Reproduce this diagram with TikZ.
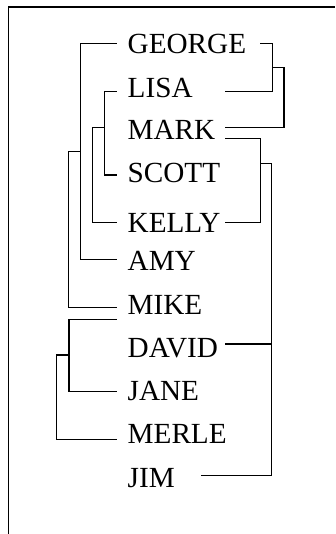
\documentclass[tikz,border=0pt]{standalone}
\usepackage{fontspec}
\setmainfont{Liberation Serif}
\usepackage{tikz}

\tikzset{
  person/.style={anchor=base west,inner sep=0pt,font=\fontsize{29.2}{31}\selectfont},
  link/.style={line width=1.2pt},
  frame/.style={line width=1.6pt}
}

\begin{document}
\begin{tikzpicture}[x=1pt,y=-1pt]
\useasboundingbox (0,0) rectangle (335,534);
\draw[frame] (8.3,534) -- (8.3,7.3) -- (335,7.3);

% names
\node[person] (george) at (127.5,54) {GEORGE};
\node[person] (lisa)   at (127.5,98) {LISA};
\node[person] (mark)   at (127.5,140) {MARK};
\node[person] (scott)  at (127.5,183) {SCOTT};
\node[person] (kelly)  at (127.5,233) {KELLY};
\node[person] (amy)    at (127.5,270.5) {AMY};
\node[person] (mike)   at (127.5,314) {MIKE};
\node[person] (david)  at (127.5,357) {DAVID};
\node[person] (jane)   at (127.5,400) {JANE};
\node[person] (merle)  at (127.5,443) {MERLE};
\node[person] (jim)    at (127.5,487) {JIM};

% line ends, left side
\coordinate (george-l) at (116.7,43.3);
\coordinate (lisa-l)   at (116.7,91.7);
\coordinate (scott-l)  at (116.7,175);
\coordinate (kelly-l)  at (116.7,222.7);
\coordinate (amy-l)    at (116.7,259.3);
\coordinate (mike-l)   at (116.7,307.3);
\coordinate (david-l)  at (116.7,319.3);
\coordinate (jane-l)   at (116.7,391.7);
\coordinate (merle-l)  at (116.7,439.3);
% line ends, right side
\coordinate (george-r) at (260,43.3);
\coordinate (lisa-r)   at (225,91.7);
\coordinate (mark-r)   at (225,127.3);
\coordinate (mark-r2)  at (225,138.3);
\coordinate (kelly-r)  at (225,222.7);
\coordinate (david-r)  at (225,344);
\coordinate (jim-r)    at (201,475.7);

% left brackets
\draw[link] (george-l) -- ++(-36,0) |- (amy-l);
\draw[link] (lisa-l) -- ++(-12.4,0) |- (scott-l);
\draw[link] (104.3,127.7) -- (92.7,127.7) |- (kelly-l);
\draw[link] (80.7,151.7) -- (68.5,151.7) |- (mike-l);
\draw[link] (david-l) -- ++(-47.7,0) |- (jane-l);
\draw[link] (69,355) -- (56.7,355) |- (merle-l);

% right brackets
\draw[link] (george-r) -- ++(12.7,0) |- (lisa-r);
\draw[link] (272.7,67.3) -- (284,67.3) |- (mark-r);
\draw[link] (mark-r2) -- ++(35.7,0) |- (kelly-r);
\draw[link] (260.7,163.3) -- (271.7,163.3) |- (jim-r);
\draw[link] (271.7,344) -- (david-r);

\end{tikzpicture}
\end{document}
